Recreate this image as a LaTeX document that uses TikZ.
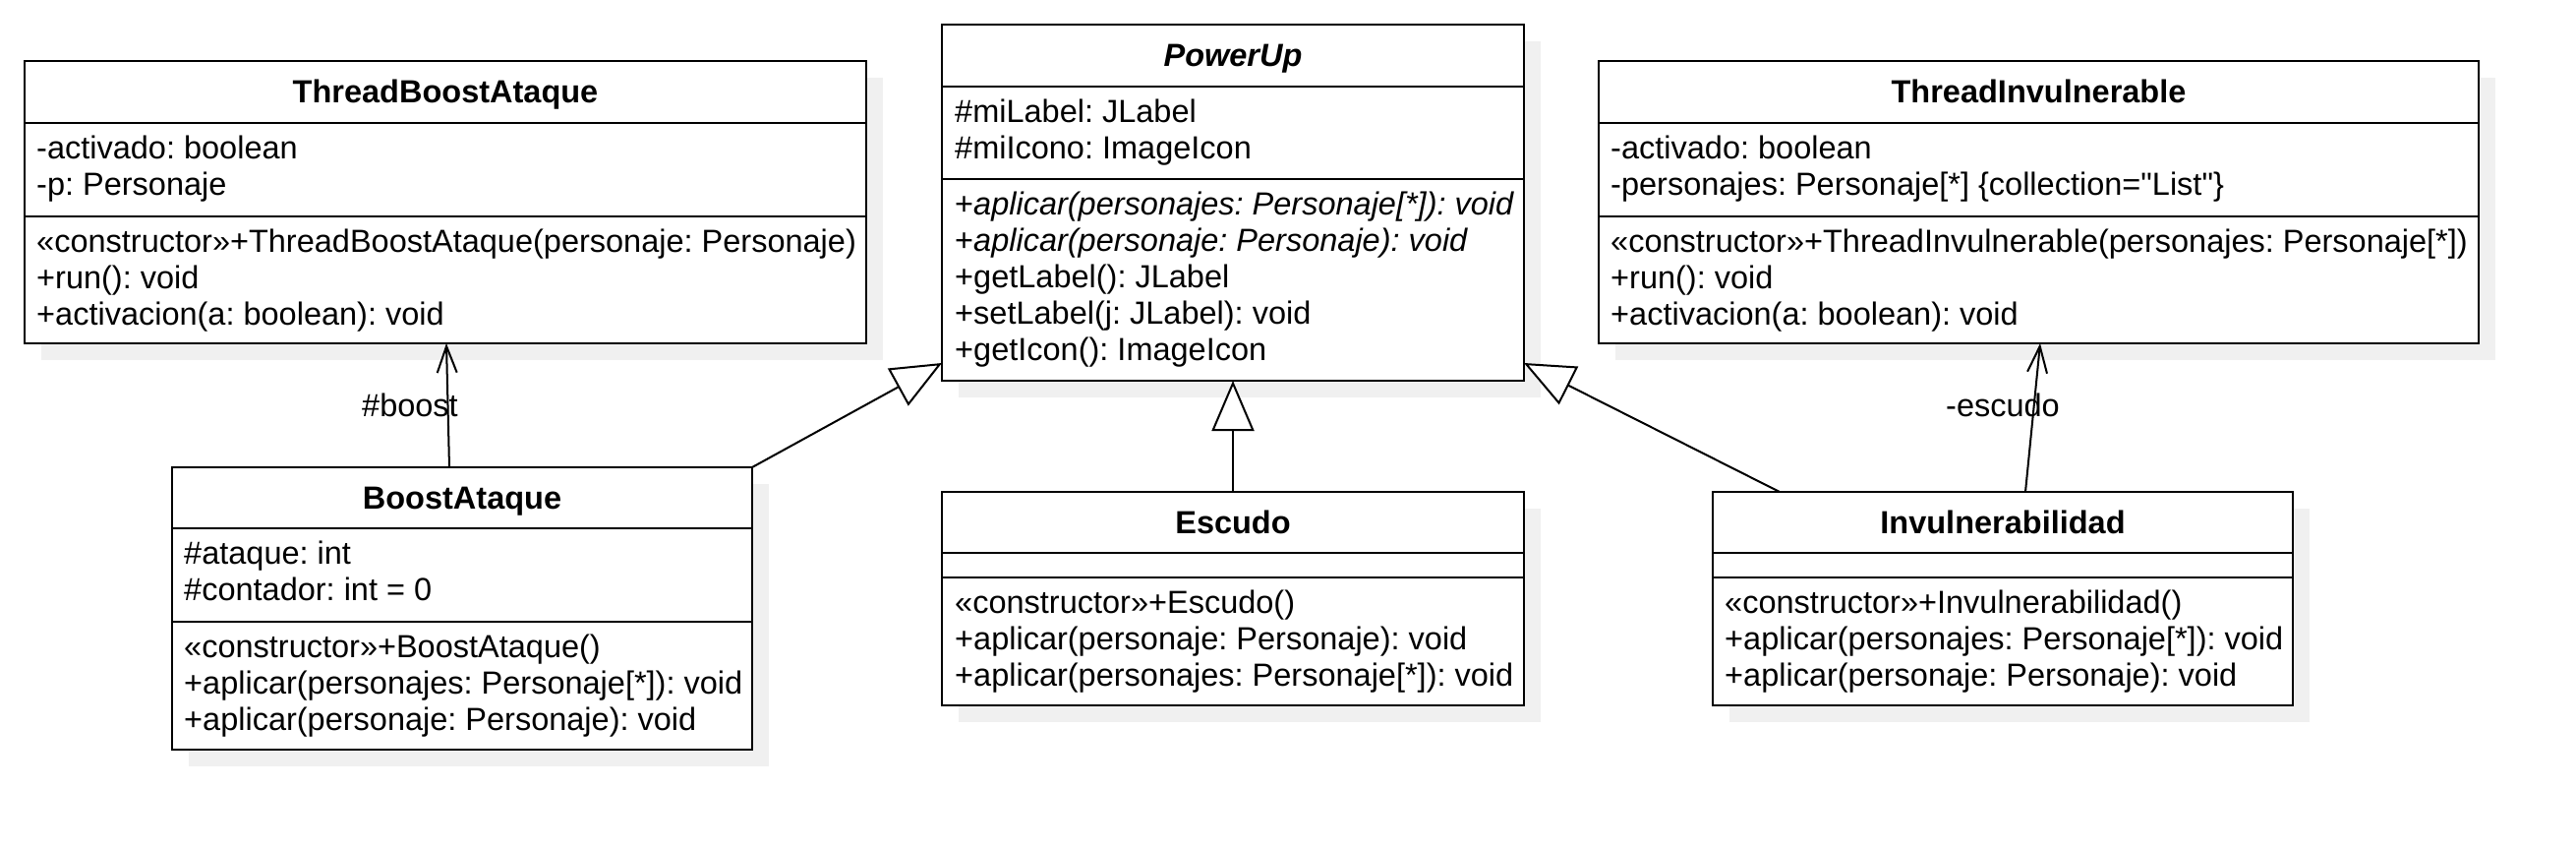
\documentclass[tikz,border=0pt]{standalone}
\usepackage{fontspec}
\newfontfamily\lsans{Liberation Sans}
\usetikzlibrary{arrows.meta,calc,shadows}
\newcommand\fs{\lsans\frenchspacing\fontsize{32.5pt}{37pt}\selectfont}
\begin{document}
\begin{tikzpicture}[x=1pt,y=-1pt,
  box/.style={draw=black, line width=2.4pt, fill=white, anchor=north west, inner sep=0pt, outer sep=0pt,
    drop shadow={shadow xshift=17pt, shadow yshift=-17pt, opacity=1, fill=black!6}},
  div/.style={line width=2.4pt},
  txt/.style={anchor=base west, inner sep=0pt, font=\fs},
  ttl/.style={anchor=base, inner sep=0pt, font=\fs\bfseries},
  lbl/.style={anchor=base, inner sep=0pt, font=\fs},
  conn/.style={line width=2pt, draw=black},
  gen/.style={conn, -{Triangle[length=51pt,width=43pt,fill=white,line width=2pt]}},
  assoc/.style={conn, -{Straight Barb[length=27pt,width=20pt,line width=2pt]}}]
\useasboundingbox (0,0) rectangle (2620,862);
\fill[white] (0,0) rectangle (2620,862);

% ThreadBoostAtaque
\node[box, minimum width=856pt, minimum height=287pt] (tba) at (25,62) {};
\draw[div] (25,125) -- (881,125);
\draw[div] (25,220) -- (881,220);
\node[ttl] (tba-t) at (453,104) {ThreadBoostAtaque};
\node[txt] (tba-a1) at (37,161) {-activado: boolean};
\node[txt] (tba-a2) at (37,198) {-p: Personaje};
\node[txt] (tba-m1) at (37,256) {«constructor»+ThreadBoostAtaque(personaje: Personaje)};
\node[txt] (tba-m2) at (37,293) {+run(): void};
\node[txt] (tba-m3) at (37,330) {+activacion(a: boolean): void};

% PowerUp
\node[box, minimum width=592pt, minimum height=362pt] (pu) at (958,25) {};
\draw[div] (958,88) -- (1550,88);
\draw[div] (958,182) -- (1550,182);
\node[ttl] (pu-t) at (1254,67) {\itshape PowerUp};
\node[txt] (pu-a1) at (971,124) {\#miLabel: JLabel};
\node[txt] (pu-a2) at (971,161) {\#miIcono: ImageIcon};
\node[txt] (pu-m1) at (971,218) {+\textit{aplicar(personajes: Personaje[*]): void}};
\node[txt] (pu-m2) at (971,255) {+\textit{aplicar(personaje: Personaje): void}};
\node[txt] (pu-m3) at (971,292) {+getLabel(): JLabel};
\node[txt] (pu-m4) at (971,329) {+setLabel(j: JLabel): void};
\node[txt] (pu-m5) at (971,366) {+getIcon(): ImageIcon};

% ThreadInvulnerable
\node[box, minimum width=895pt, minimum height=287pt] (ti) at (1626,62) {};
\draw[div] (1626,125) -- (2521,125);
\draw[div] (1626,220) -- (2521,220);
\node[ttl] (ti-t) at (2073.5,104) {ThreadInvulnerable};
\node[txt] (ti-a1) at (1638,161) {-activado: boolean};
\node[txt] (ti-a2) at (1638,198) {-personajes: Personaje[*] \{collection="List"\}};
\node[txt] (ti-m1) at (1638,256) {«constructor»+ThreadInvulnerable(personajes: Personaje[*])};
\node[txt] (ti-m2) at (1638,293) {+run(): void};
\node[txt] (ti-m3) at (1638,330) {+activacion(a: boolean): void};

% BoostAtaque
\node[box, minimum width=590pt, minimum height=287pt] (ba) at (175,475) {};
\draw[div] (175,537) -- (765,537);
\draw[div] (175,632) -- (765,632);
\node[ttl] (ba-t) at (470,517) {BoostAtaque};
\node[txt] (ba-a1) at (187,573) {\#ataque: int};
\node[txt] (ba-a2) at (187,610) {\#contador: int = 0};
\node[txt] (ba-m1) at (187,668) {«constructor»+BoostAtaque()};
\node[txt] (ba-m2) at (187,705) {+aplicar(personajes: Personaje[*]): void};
\node[txt] (ba-m3) at (187,742) {+aplicar(personaje: Personaje): void};

% Escudo
\node[box, minimum width=592pt, minimum height=217pt] (esc) at (958,500) {};
\draw[div] (958,562) -- (1550,562);
\draw[div] (958,587) -- (1550,587);
\node[ttl] (esc-t) at (1254,542) {Escudo};
\node[txt] (esc-m1) at (971,623) {«constructor»+Escudo()};
\node[txt] (esc-m2) at (971,660) {+aplicar(personaje: Personaje): void};
\node[txt] (esc-m3) at (971,697) {+aplicar(personajes: Personaje[*]): void};

% Invulnerabilidad
\node[box, minimum width=590pt, minimum height=217pt] (inv) at (1742,500) {};
\draw[div] (1742,562) -- (2332,562);
\draw[div] (1742,587) -- (2332,587);
\node[ttl] (inv-t) at (2037,542) {Invulnerabilidad};
\node[txt] (inv-m1) at (1754,623) {«constructor»+Invulnerabilidad()};
\node[txt] (inv-m2) at (1754,660) {+aplicar(personajes: Personaje[*]): void};
\node[txt] (inv-m3) at (1754,697) {+aplicar(personaje: Personaje): void};

% connectors
\draw[assoc] ($(ba.north west)+(282,0)$) -- ($(tba.south west)+(429,0)$);
\draw[gen] (ba.north east) -- ($(pu.south west)+(0,-18)$);
\draw[gen] (esc.north) -- (pu.south);
\draw[gen] ($(inv.north west)+(68,0)$) -- ($(pu.south east)+(0,-18)$);
\draw[assoc] ($(inv.north west)+(318,0)$) -- ($(ti.south west)+(449,0)$);
\node[lbl] (l-boost) at (417,423) {\#boost};
\node[lbl] (l-escudo) at (2037,423) {-escudo};
\end{tikzpicture}
\end{document}
